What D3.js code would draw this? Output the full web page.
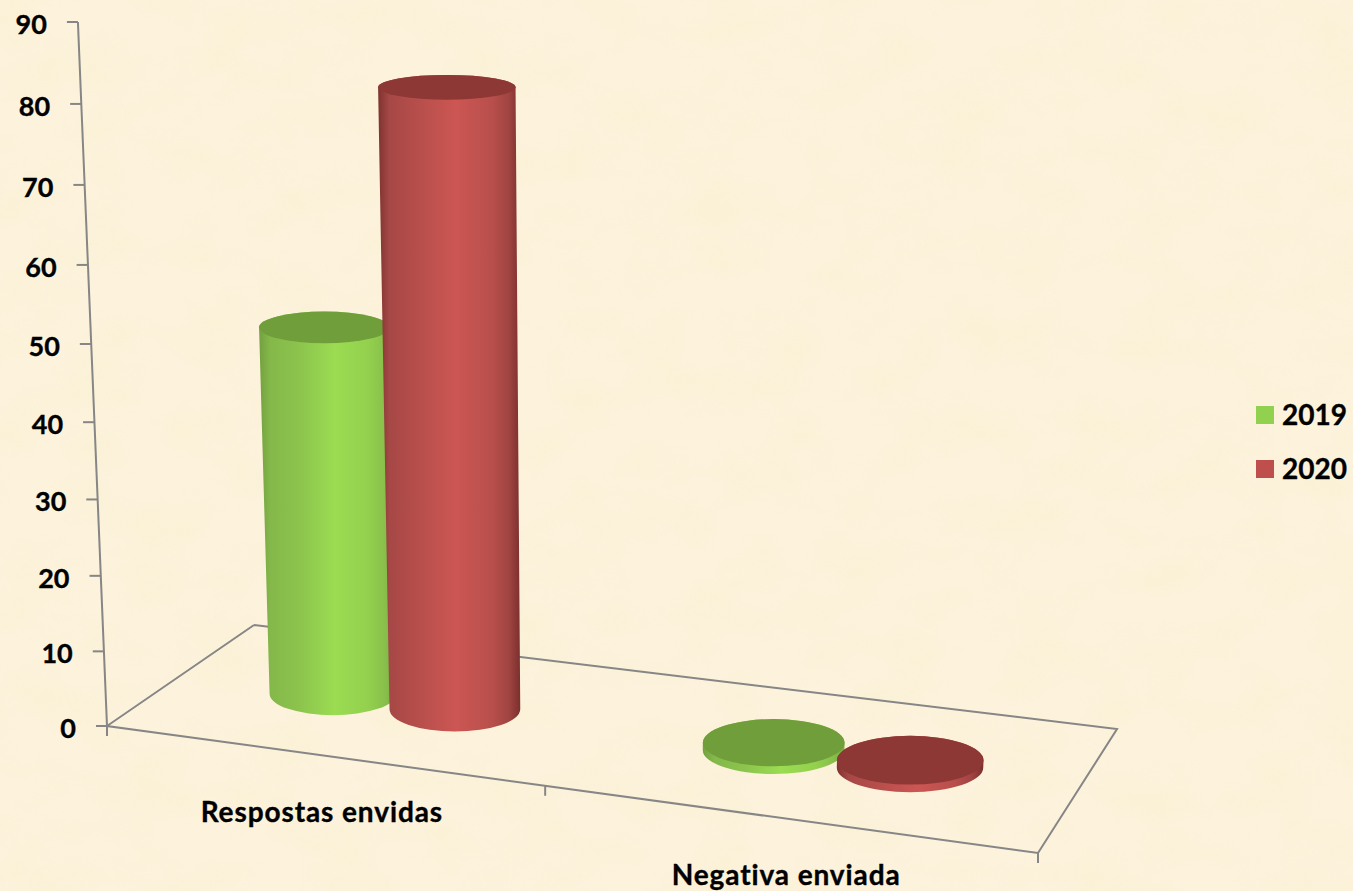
<!DOCTYPE html>
<html>
<head>
<meta charset="utf-8">
<style>
html, body { margin: 0; padding: 0; background: #fcf0d8; }
svg { display: block; }
text { font-family: Lato, sans-serif; font-weight: 700; fill: #000; stroke: #000; stroke-width: 0.35; }
.grid { fill: none; stroke: #868686; stroke-width: 2; }
</style>
</head>
<body>
<svg width="1353" height="891"></svg>
<script src="https://d3js.org/d3.v7.min.js"></script>
<script>

var categories = ["Respostas envidas", "Negativa enviada"];
var seriesNames = ["2019", "2020"];
var values2019 = [48, 1];
var values2020 = [80, 1];
var yTicks = [0, 10, 20, 30, 40, 50, 60, 70, 80, 90];

var svg = d3.select("svg");
var defs = svg.append("defs");

// paper background
var paper = defs.append("filter").attr("id", "paper")
    .attr("x", 0).attr("y", 0).attr("width", 1).attr("height", 1);
paper.append("feTurbulence").attr("type", "fractalNoise")
    .attr("baseFrequency", "0.016 0.022").attr("numOctaves", 3).attr("seed", 11);
paper.append("feColorMatrix").attr("type", "matrix")
    .attr("values", "0 0 0 0 0.95  0 0 0 0 0.88  0 0 0 0 0.66  2.4 0 0 0 -0.95");
svg.append("rect").attr("width", 1353).attr("height", 891).attr("fill", "#fdf2dc");
svg.append("rect").attr("width", 1353).attr("height", 891).attr("filter", "url(#paper)").attr("opacity", 0.6);

// floor of the 3d box, unit square -> picture
var floorA = 815.9, floorB = 169.6, floorC = 107,
    floorD = 32.4, floorE = -45.4, floorF = 726,
    floorG = -0.1109, floorH = 0.08895;

function floor(u, w) {
  var k = floorG * u + floorH * w + 1;
  return [(floorA * u + floorB * w + floorC) / k, (floorD * u + floorE * w + floorF) / k];
}

var x0 = d3.scaleBand().domain(categories).range([0, 1]);
var x1 = d3.scaleBand().domain(seriesNames).range([0.1125, 0.4005]);
var depth = 0.49, depthRadius = 0.205, sideRadius = 0.076;

// value axis gets slightly longer per unit towards the top
var y = d3.scaleLinear().domain(yTicks).range(yTicks.map(function(v) {
  return 726 - 7.423 * v / (1 - 0.000567 * v);
}));
var vanishX = 612;

function lean(px, v) { return vanishX + (px - vanishX) * (1 + 0.00064 * v); }

var grid = svg.append("g").attr("class", "grid");
var corners = [[0, 1], [1, 1], [1, 0], [0, 0], [0, 1]].map(function(c) { return floor(c[0], c[1]); });
grid.append("path").attr("d", d3.line()(corners));

// value axis
var origin = floor(0, 0);
var yMax = yTicks[yTicks.length - 1];
grid.append("line")
    .attr("x1", origin[0]).attr("y1", y(0))
    .attr("x2", lean(origin[0], yMax)).attr("y2", y(yMax));
grid.selectAll(".ytick").data(yTicks).enter().append("line")
    .attr("x1", function(d) { return lean(origin[0], d); })
    .attr("x2", function(d) { return lean(origin[0], d) - 11; })
    .attr("y1", y).attr("y2", y);
svg.append("g").selectAll("text").data(yTicks).enter().append("text")
    .attr("x", function(d) { return lean(origin[0], d) - 31; })
    .attr("y", function(d) { return y(d) + 2; })
    .attr("dy", "0.36em")
    .attr("text-anchor", "end")
    .attr("font-size", 27)
    .text(function(d) { return d; });

// category ticks and labels
grid.selectAll(".xtick").data([0, 0.5, 1]).enter().append("line")
    .attr("x1", function(d) { return floor(d, 0)[0]; })
    .attr("x2", function(d) { return floor(d, 0)[0]; })
    .attr("y1", function(d) { return floor(d, 0)[1]; })
    .attr("y2", function(d) { return floor(d, 0)[1] + 10; });
svg.append("g").selectAll("text").data(categories).enter().append("text")
    .attr("x", function(d) { return floor(x0(d) + x0.bandwidth() / 2, 0)[0] + 2; })
    .attr("y", function(d) { return floor(x0(d) + x0.bandwidth() / 2, 0)[1] + 67; })
    .attr("text-anchor", "middle")
    .attr("font-size", 28)
    .attr("letter-spacing", 0.9)
    .text(function(d) { return d; });

// cylinder shading
var sideStops = {
  "2019": ["#74a040", "#84b84a", "#8cc44d", "#9bdc52", "#93d04e", "#88bf4b", "#7aa844"],
  "2020": ["#7e3331", "#a64846", "#b84f4c", "#cc5653", "#b84f4c", "#a04442", "#7b302e"]
};
var topColor = { "2019": "#6f9e3a", "2020": "#8e3836" };
var legendColor = { "2019": "#92d050", "2020": "#be4f4d" };
var stopAt = [0, 0.08, 0.3, 0.55, 0.8, 0.92, 1];
seriesNames.forEach(function(s) {
  var g = defs.append("linearGradient").attr("id", "side" + s);
  sideStops[s].forEach(function(c, i) {
    g.append("stop").attr("offset", stopAt[i]).attr("stop-color", c);
  });
});

var bars = [];
categories.forEach(function(c, i) {
  bars.push({ cat: c, series: "2019", value: values2019[i] });
  bars.push({ cat: c, series: "2020", value: values2020[i] });
});

function cylinder(d) {
  var u = x0(d.cat) + x1(d.series) + x1.bandwidth() / 2;
  var base = floor(u, depth);
  var rx = (floor(u + sideRadius, depth)[0] - floor(u - sideRadius, depth)[0]) / 2;
  var ry = Math.abs(floor(u, depth - depthRadius)[1] - floor(u, depth + depthRadius)[1]) / 2;
  var grow = lean(1, d.value) - lean(0, d.value);
  return {
    x: base[0], yb: base[1], rx: rx, ry: ry,
    tx: lean(base[0], d.value),
    ty: base[1] - (y(0) - y(d.value)),
    trx: rx * grow,
    try_: ry * (1 - 0.0055 * d.value)
  };
}

var cyl = svg.append("g").selectAll("g").data(bars).enter().append("g");

cyl.append("path")
    .attr("fill", function(d) { return "url(#side" + d.series + ")"; })
    .attr("d", function(d) {
      var c = cylinder(d);
      return "M" + (c.tx - c.trx) + "," + c.ty +
        "L" + (c.x - c.rx) + "," + c.yb +
        "A" + c.rx + "," + c.ry + " 0 0 0 " + (c.x + c.rx) + "," + c.yb +
        "L" + (c.tx + c.trx) + "," + c.ty +
        "A" + c.trx + "," + c.try_ + " 0 0 0 " + (c.tx - c.trx) + "," + c.ty + "Z";
    });

cyl.append("ellipse")
    .attr("fill", function(d) { return topColor[d.series]; })
    .attr("cx", function(d) { return cylinder(d).tx; })
    .attr("cy", function(d) { return cylinder(d).ty; })
    .attr("rx", function(d) { return cylinder(d).trx; })
    .attr("ry", function(d) { return cylinder(d).try_; });

// legend
var legend = svg.append("g").selectAll("g").data(seriesNames).enter().append("g")
    .attr("transform", function(d, i) { return "translate(1256," + (406 + i * 54) + ")"; });
legend.append("rect")
    .attr("width", 18).attr("height", 18)
    .attr("fill", function(d) { return legendColor[d]; });
legend.append("text")
    .attr("x", 26).attr("y", 9).attr("dy", "0.36em")
    .attr("font-size", 28)
    .text(function(d) { return d; });

</script>
</body>
</html>
